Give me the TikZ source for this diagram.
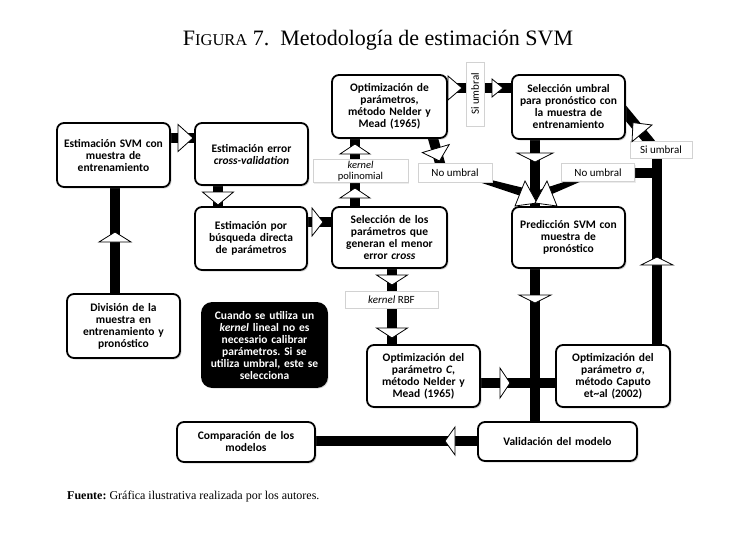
\documentclass[tikz,border=0pt]{standalone}
\usepackage{fontspec}
\setmainfont{Liberation Serif}
\newfontfamily\boxfont{Carlito}
\usetikzlibrary{shadows,calc}
\pgfdeclarelayer{bg}
\pgfsetlayers{bg,main}
\frenchspacing
\newcommand{\ahd}[5]{\filldraw[ahead,shift={(#1,#2)},rotate=#3] (0,0) -- (-#4,#5) -- (-#4,-#5) -- cycle;}
\tikzset{
  box/.style={draw=black, line width=1.8pt, rounded corners=7pt, fill=white, align=center,
    text width=106pt, inner xsep=2pt, inner ysep=1pt,
    font=\boxfont\bfseries\fontsize{11.5}{12}\selectfont,
    drop shadow={shadow xshift=1.5pt, shadow yshift=-1.5pt, opacity=0.3}},
  lbl/.style={draw=gray!35, line width=0.6pt, fill=white, align=center, inner sep=1pt,
    font=\boxfont\fontsize{11}{11.5}\selectfont,
    drop shadow={shadow xshift=1pt, shadow yshift=-1pt, opacity=0.15}},
  bar/.style={line width=10pt, black},
  ahead/.style={fill=white, draw=black, line width=0.8pt, line join=miter},
}
\begin{document}
\begin{tikzpicture}[x=1pt,y=-1pt]
\useasboundingbox (0,0) rectangle (734,541);
\begin{pgfonlayer}{bg}
\fill[white] (0,0) rectangle (734,541);
\end{pgfonlayer}

% title and source
\node[font=\fontsize{22}{24}\selectfont, inner sep=0pt] (title) at (378,40)
  {F{\fontsize{16.5}{18}\selectfont IGURA} 7.\enspace Metodología de estimación SVM};
\node[font=\fontsize{12}{14}\selectfont, anchor=base west, inner sep=0pt] (source) at (67,499)
  {\textbf{Fuente:} Gráfica ilustrativa realizada por los autores.};

% boxes
\node[box, minimum width=113pt, minimum height=64pt] (svm) at (113.5,155) {Estimación SVM con\\muestra de\\entrenamiento};
\node[box, minimum width=113pt, minimum height=62pt] (err) at (251.5,154) {Estimación error\\\textit{cross-validation}};
\node[box, minimum width=112pt, minimum height=63pt] (bus) at (251,238.5) {Estimación por\\búsqueda directa\\de parámetros};
\node[box, minimum width=115pt, minimum height=63pt] (optnm) at (389.5,106.5) {Optimización de\\parámetros,\\método Nelder y\\Mead (1965)};
\node[box, minimum width=113pt, minimum height=64pt] (selum) at (568.5,107) {Selección umbral\\para pronóstico con\\la muestra de\\entrenamiento};
\node[box, minimum width=115pt, minimum height=61pt] (selpar) at (389.5,237.5) {Selección de los\\parámetros que\\generan el menor\\error \textit{cross}};
\node[box, minimum width=113pt, minimum height=61pt] (pred) at (568.5,237.5) {Predicción SVM con\\muestra de\\pronóstico};
\node[box, minimum width=113pt, minimum height=64pt] (div) at (123.5,326) {División de la\\muestra en\\entrenamiento y\\pronóstico};
\node[box, fill=black, text=white, rounded corners=10pt, text width=120pt, minimum width=125pt, minimum height=84pt] (note) at (264.5,345)
  {Cuando se utiliza un\\\textit{kernel} lineal no es\\necesario calibrar\\parámetros. Si se\\utiliza umbral, este se\\selecciona};
\node[box, text width=130pt, minimum width=138pt, minimum height=40pt] (comp) at (246,442) {Comparación de los\\modelos};
\node[box, minimum width=113pt, minimum height=62pt] (optc) at (423.5,376) {Optimización del\\parámetro \textit{C},\\método Nelder y\\Mead (1965)};
\node[box, minimum width=114pt, minimum height=62pt] (opts) at (613,376) {Optimización del\\parámetro \textit{σ},\\método Caputo\\et\textasciitilde al (2002)};
\node[box, text width=150pt, minimum width=159pt, minimum height=39pt] (val) at (557.5,441.5) {Validación del modelo};

% labels
\node[lbl, rotate=90, minimum width=64pt, minimum height=18pt] (siumb1) at (475,94) {Si umbral};
\node[lbl, minimum width=95pt, minimum height=23pt, font=\boxfont\fontsize{10.5}{10.5}\selectfont] (kpol) at (360.5,171) {\textit{kernel}\\polinomial};
\node[lbl, minimum width=74pt, minimum height=19pt] (noumb1) at (455,172.5) {No umbral};
\node[lbl, minimum width=73pt, minimum height=18pt] (noumb2) at (598,172.5) {No umbral};
\node[lbl, minimum width=62pt, minimum height=17pt] (siumb2) at (661,149.5) {Si umbral};
\node[lbl, minimum width=93pt, minimum height=17pt] (krbf) at (391.5,299.5) {\textit{kernel} RBF};

% helper coordinates
\coordinate (h138) at (0,138);
\coordinate (h222) at (0,222);
\coordinate (h88) at (0,88);
\coordinate (h383) at (0,383);
\coordinate (h441) at (0,441);
\coordinate (v218) at (218,0);
\coordinate (v115) at (115,0);
\coordinate (v355) at (355,0);
\coordinate (v535) at (535,0);
\coordinate (v657) at (657,0);
\coordinate (v392) at (392,0);
\coordinate (conv) at (536,196);

% connectors (bars)
\begin{pgfonlayer}{bg}
\draw[bar] (svm.east |- h138) -- (err.west |- h138);
\draw[bar] (err.south -| v218) -- (bus.north -| v218);
\draw[bar] (div.north -| v115) -- (svm.south -| v115);
\draw[bar] (bus.east |- h222) -- (selpar.west |- h222);
\draw[bar] (selpar.north -| v355) -- (optnm.south -| v355);
\draw[bar] (optnm.east |- h88) -- (selum.west |- h88);
\draw[bar] ([xshift=-17pt,yshift=8pt]optnm.south east) -- ([xshift=-14pt,yshift=-4pt]noumb1.north);
\fill ([yshift=1.5pt]noumb1.center) -- ([yshift=5pt]conv) -- ([yshift=-5pt]conv) -- ([yshift=-1.5pt]noumb1.center) -- cycle;
\draw[bar] (selum.south -| v535) -- (pred.north -| v535);
\draw[bar] ([xshift=-6pt,yshift=1pt]selum.east) -- ([xshift=-10pt,yshift=-3pt]siumb2.north);
\draw[bar] (opts.north -| v657) -- (siumb2.south -| v657);
\draw[bar] (noumb2.east) -- (noumb2.east -| v657);
\fill ([yshift=1.5pt]noumb2.center) -- ([yshift=5pt]conv) -- ([yshift=-5pt]conv) -- ([yshift=-1.5pt]noumb2.center) -- cycle;
\draw[bar] (pred.south -| v535) -- (val.north -| v535);
\draw[bar] (selpar.south -| v392) -- (optc.north -| v392);
\draw[bar] (optc.east |- h383) -- (opts.west |- h383);
\draw[bar] (val.west |- h441) -- (comp.east |- h441);
\end{pgfonlayer}

% arrowheads
\ahd{193}{138}{0}{15}{13.5}
\ahd{218}{205}{-90}{13}{15.5}
\ahd{115}{232}{90}{10}{16}
\ahd{323}{222}{0}{11}{14}
\ahd{355}{188}{90}{10}{15}
\ahd{355}{144}{90}{10}{15}
\ahd{462}{88}{0}{14}{12}
\ahd{503}{88}{0}{11}{9}
\ahd{439.5}{161}{-73.4}{13}{14}
\ahd{535}{162}{-90}{9}{18}
\ahd{633}{122.6}{130}{14}{13}
\ahd{657}{257}{90}{8}{16}
\ahd{535}{303}{-90}{8}{16}
\ahd{392}{285}{-90}{10}{15.5}
\ahd{392}{338}{-90}{10}{15.5}
\ahd{510}{383}{0}{10}{15}
\ahd{445}{441}{180}{10}{14}
\filldraw[ahead] (515,206) -- (525,181) -- (537,203) -- cycle;
\filldraw[ahead] (557,206) -- (547,181) -- (535,203) -- cycle;
\end{tikzpicture}
\end{document}
